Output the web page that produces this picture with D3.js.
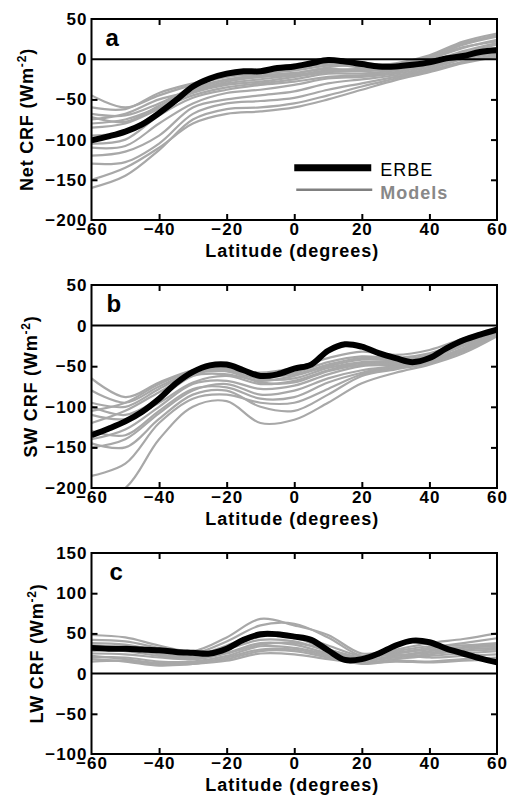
<!DOCTYPE html>
<html>
<head>
<meta charset="utf-8">
<script src="https://cdn.jsdelivr.net/npm/d3@7"></script>
<style>
  body { margin: 0; background: #fff; }
  svg { display: block; font-family: "Liberation Sans", Arial, sans-serif; }
  .tick text { font-size: 17px; font-weight: bold; letter-spacing: 1px; fill: #000; }
  .tick line { stroke: #000; stroke-width: 2; }
</style>
</head>
<body>
<svg id="chart" width="512" height="801"></svg>
<script>
// latitude grids
const erbeLats = d3.range(-60, 61, 5);
const modelLats = d3.range(-60, 61, 10);
const xTicks = [-60, -40, -20, 0, 20, 40, 60];

// ERBE observations (every 5 degrees)
const erbeNet = [-101, -96, -90, -81, -67, -51, -34, -24, -18, -15, -15, -11, -9, -5, -1, -3, -6, -9, -9, -7, -4, 1, 4, 9, 11];
const erbeSW = [-135, -127, -118, -106, -90, -71, -57, -49, -48, -55, -62, -60, -53, -48, -31, -23, -26, -34, -40, -45, -40, -28, -18, -11, -5];
const erbeLW = [32, 31, 31, 30, 29, 27, 26, 25, 31, 42, 49, 49, 46, 42, 29, 17, 18, 25, 35, 41, 39, 31, 25, 19, 14];

// model runs (every 10 degrees)
const netModels = [
  [-45, -60, -45, -32, -22, -18, -14, -8, -8, -5, 5, 22, 32],
  [-60, -62, -42, -30, -20, -16, -12, -6, -10, -8, 2, 18, 28],
  [-68, -70, -55, -36, -25, -20, -17, -12, -14, -10, 0, 14, 24],
  [-75, -68, -50, -40, -30, -25, -20, -14, -12, -8, 2, 15, 22],
  [-80, -75, -60, -42, -32, -28, -22, -16, -15, -12, -4, 8, 18],
  [-85, -80, -62, -45, -35, -30, -25, -18, -18, -14, -6, 5, 14],
  [-105, -100, -70, -48, -38, -32, -28, -22, -20, -16, -8, 4, 12],
  [-110, -108, -80, -55, -42, -38, -32, -24, -22, -18, -10, 2, 10],
  [-120, -115, -95, -60, -50, -45, -40, -30, -25, -20, -12, 0, 8],
  [-130, -128, -105, -68, -55, -52, -48, -38, -30, -22, -14, -3, 6],
  [-150, -135, -110, -80, -68, -65, -60, -50, -38, -26, -16, -5, 3],
  [-160, -145, -113, -75, -62, -60, -55, -45, -34, -24, -14, -4, 4],
  [-95, -90, -65, -40, -28, -22, -20, -15, -12, -10, -3, 10, 20],
  [-72, -78, -58, -38, -26, -22, -18, -10, -6, -6, 4, 20, 30]
];
const swModels = [
  [-65, -88, -70, -55, -52, -58, -52, -40, -32, -36, -30, -16, -4],
  [-95, -100, -78, -58, -55, -62, -58, -45, -38, -40, -34, -20, -6],
  [-100, -110, -90, -62, -60, -68, -62, -50, -42, -42, -38, -22, -8],
  [-110, -115, -95, -70, -62, -72, -68, -55, -46, -45, -40, -25, -10],
  [-120, -105, -82, -60, -56, -66, -65, -52, -45, -44, -38, -22, -7],
  [-140, -128, -100, -72, -68, -78, -74, -60, -50, -48, -42, -28, -9],
  [-150, -140, -108, -80, -72, -85, -80, -65, -55, -50, -44, -30, -11],
  [-185, -170, -120, -90, -85, -95, -95, -78, -60, -52, -46, -32, -12],
  [-215, -200, -140, -100, -93, -120, -116, -95, -71, -58, -48, -34, -13],
  [-130, -135, -105, -78, -76, -90, -88, -70, -58, -50, -44, -28, -8],
  [-105, -95, -72, -56, -54, -62, -60, -48, -40, -42, -36, -20, -5],
  [-145, -150, -115, -85, -80, -100, -105, -85, -62, -54, -46, -30, -10],
  [-80, -95, -75, -58, -56, -70, -70, -56, -48, -46, -40, -24, -8]
];
const lwModels = [
  [48, 45, 35, 28, 45, 68, 60, 48, 25, 30, 38, 43, 50],
  [42, 40, 32, 25, 40, 60, 62, 45, 22, 26, 32, 38, 44],
  [35, 32, 25, 22, 35, 50, 45, 30, 20, 25, 30, 33, 36],
  [30, 28, 22, 20, 30, 42, 40, 28, 18, 22, 28, 32, 34],
  [25, 24, 20, 18, 26, 38, 36, 25, 17, 22, 26, 30, 32],
  [20, 20, 15, 15, 22, 34, 32, 24, 16, 20, 24, 28, 30],
  [15, 16, 12, 12, 20, 30, 30, 22, 14, 18, 22, 25, 28],
  [28, 30, 24, 18, 25, 36, 38, 30, 20, 24, 20, 22, 24],
  [22, 18, 13, 14, 18, 28, 28, 20, 12, 16, 15, 18, 20],
  [38, 36, 28, 22, 32, 46, 48, 35, 22, 28, 34, 35, 38],
  [18, 15, 10, 12, 16, 25, 24, 18, 13, 15, 14, 16, 18]
];

const panels = [
  {id: "a", title: "Net CRF (Wm", yDomain: [-200, 50], yTicks: [-200, -150, -100, -50, 0, 50], erbe: erbeNet, models: netModels,
   top: 19, bottom: 220, titleX: 33, letterDx: 14, legend: true},
  {id: "b", title: "SW CRF (Wm", yDomain: [-200, 50], yTicks: [-200, -150, -100, -50, 0, 50], erbe: erbeSW, models: swModels,
   top: 285, bottom: 488, titleX: 37, letterDx: 15, legend: false},
  {id: "c", title: "LW CRF (Wm", yDomain: [-100, 150], yTicks: [-100, -50, 0, 50, 100, 150], erbe: erbeLW, models: lwModels,
   top: 553, bottom: 754, titleX: 43, letterDx: 18, legend: false}
];

const left = 91.5, right = 497;
const svg = d3.select("#chart");
const x = d3.scaleLinear().domain([-60, 60]).range([left, right]);

panels.forEach(p => {
  const y = d3.scaleLinear().domain(p.yDomain).range([p.bottom, p.top]);
  const g = svg.append("g");

  g.append("clipPath").attr("id", "clip-" + p.id)
    .append("rect")
    .attr("x", left).attr("y", p.top)
    .attr("width", right - left).attr("height", p.bottom - p.top);

  const plot = g.append("g").attr("clip-path", `url(#clip-${p.id})`);

  const modelLine = d3.line()
    .x((d, i) => x(modelLats[i]))
    .y(d => y(d))
    .curve(d3.curveCatmullRom);

  plot.selectAll(".model")
    .data(p.models)
    .enter().append("path")
    .attr("class", "model")
    .attr("d", modelLine)
    .attr("fill", "none")
    .attr("stroke", "#a8a8a8")
    .attr("stroke-width", 2.2);

  // zero line
  plot.append("line")
    .attr("x1", left).attr("x2", right)
    .attr("y1", y(0)).attr("y2", y(0))
    .attr("stroke", "#000").attr("stroke-width", 2);

  const erbeLine = d3.line()
    .x((d, i) => x(erbeLats[i]))
    .y(d => y(d))
    .curve(d3.curveCatmullRom);

  plot.append("path")
    .datum(p.erbe)
    .attr("d", erbeLine)
    .attr("fill", "none")
    .attr("stroke", "#000")
    .attr("stroke-width", 6);

  // axes, ticks inward on all sides
  g.append("g")
    .attr("transform", `translate(0,${p.bottom})`)
    .call(d3.axisBottom(x).tickValues(xTicks).tickSizeInner(-6).tickSizeOuter(0).tickPadding(3))
    .call(a => a.select(".domain").remove())
    .call(a => a.selectAll(".tick line").filter(d => d === -60 || d === 60).remove());

  g.append("g")
    .attr("transform", `translate(0,${p.top})`)
    .call(d3.axisTop(x).tickValues(xTicks.slice(1, -1)).tickSizeInner(-6).tickSizeOuter(0).tickFormat(""))
    .call(a => a.select(".domain").remove());

  g.append("g")
    .attr("transform", `translate(${left},0)`)
    .call(d3.axisLeft(y).tickValues(p.yTicks).tickSizeInner(-6).tickSizeOuter(0).tickPadding(4))
    .call(a => a.select(".domain").remove())
    .call(a => a.selectAll(".tick line").filter(d => d === p.yDomain[0] || d === p.yDomain[1] || d === 0).remove());

  g.append("g")
    .attr("transform", `translate(${right},0)`)
    .call(d3.axisRight(y).tickValues(p.yTicks.filter(d => d !== 0 && d !== p.yDomain[0] && d !== p.yDomain[1]))
      .tickSizeInner(-6).tickSizeOuter(0).tickFormat(""))
    .call(a => a.select(".domain").remove());

  // frame
  g.append("rect")
    .attr("x", left).attr("y", p.top)
    .attr("width", right - left).attr("height", p.bottom - p.top)
    .attr("fill", "none").attr("stroke", "#000").attr("stroke-width", 2);

  // panel letter
  g.append("text")
    .attr("x", left + p.letterDx).attr("y", p.top + 27)
    .attr("font-size", 24).attr("font-weight", "bold")
    .text(p.id);

  // x title
  g.append("text")
    .attr("x", (left + right) / 2 - 2).attr("y", p.bottom + 37)
    .attr("text-anchor", "middle")
    .attr("font-size", 18).attr("font-weight", "bold")
    .attr("letter-spacing", "1px")
    .text("Latitude (degrees)");

  // y title
  const yt = g.append("text")
    .attr("transform", `translate(${p.titleX},${(p.top + p.bottom) / 2}) rotate(-90)`)
    .attr("text-anchor", "middle")
    .attr("font-size", 18).attr("font-weight", "bold")
    .attr("letter-spacing", "0.8px");
  yt.append("tspan").text(p.title);
  yt.append("tspan").attr("dy", -7).attr("font-size", 12).text("-2");
  yt.append("tspan").attr("dy", 7).text(")");

  if (p.legend) {
    const lx = x(0), ly = y(-135);
    g.append("line").attr("x1", lx).attr("x2", lx + 77)
      .attr("y1", ly).attr("y2", ly)
      .attr("stroke", "#000").attr("stroke-width", 7);
    g.append("text").attr("x", lx + 86).attr("y", ly + 8)
      .attr("font-size", 18).attr("letter-spacing", "1px")
      .text("ERBE");
    g.append("line").attr("x1", lx + 2).attr("x2", lx + 78)
      .attr("y1", ly + 22).attr("y2", ly + 22)
      .attr("stroke", "#808080").attr("stroke-width", 2.5);
    g.append("text").attr("x", lx + 86).attr("y", ly + 31)
      .attr("font-size", 18).attr("font-weight", "bold").attr("letter-spacing", "1px")
      .attr("fill", "#888")
      .text("Models");
  }
});
</script>
</body>
</html>
